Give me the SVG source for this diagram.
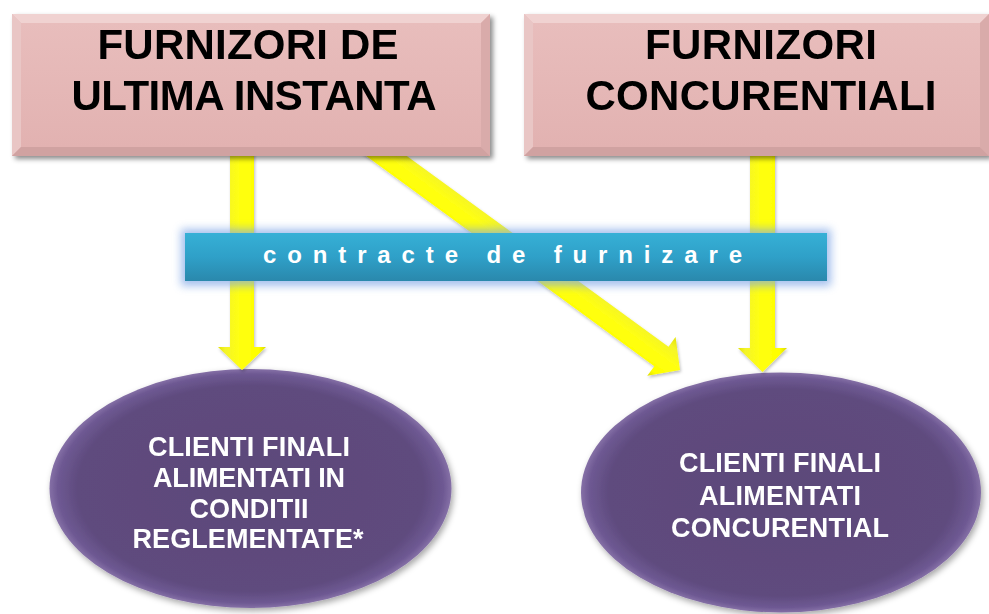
<svg xmlns="http://www.w3.org/2000/svg" width="989" height="614" viewBox="0 0 989 614">
<defs>
<style>
.boxtxt{font-family:"Liberation Sans",Arial,sans-serif;font-weight:bold;font-size:42px;fill:#000;text-anchor:middle}
.elltxt{font-family:"Liberation Sans",Arial,sans-serif;font-weight:bold;font-size:27px;fill:#fff;text-anchor:middle}
.bartxt{font-family:"Liberation Sans",Arial,sans-serif;font-weight:bold;font-size:24px;fill:#fff}
.face{fill:url(#pinkG)}
.bt{fill:#F0D2D1}.bl{fill:#E9C6C5}.br{fill:#D9ABAA}.bb{fill:#D0A2A1}
.ell{fill:url(#purpG)}
.arrow{fill:url(#yelG)}
</style>
<linearGradient id="pinkG" x1="0" y1="0" x2="0" y2="1">
<stop offset="0" stop-color="#E8BDBC"/><stop offset="1" stop-color="#E2B2B1"/>
</linearGradient>
<radialGradient id="purpG" cx="0.5" cy="0.5" r="0.5">
<stop offset="0" stop-color="#5C4879"/><stop offset="0.86" stop-color="#5F4B7E"/><stop offset="0.96" stop-color="#6E5993"/><stop offset="1" stop-color="#8570A6"/>
</radialGradient>
<linearGradient id="yelG" x1="0" y1="0" x2="1" y2="0">
<stop offset="0" stop-color="#E2E200"/><stop offset="0.15" stop-color="#F4F42A"/><stop offset="0.45" stop-color="#FFFF10"/><stop offset="0.85" stop-color="#FFFF00"/><stop offset="1" stop-color="#DADA00"/>
</linearGradient>
<linearGradient id="yelD" x1="0" y1="0" x2="0" y2="1">
<stop offset="0" stop-color="#E2E200"/><stop offset="0.2" stop-color="#F4F42A"/><stop offset="0.5" stop-color="#FFFF10"/><stop offset="0.85" stop-color="#FFFF00"/><stop offset="1" stop-color="#DADA00"/>
</linearGradient>
<linearGradient id="blueG" x1="0" y1="0" x2="0" y2="1">
<stop offset="0" stop-color="#36B0D6"/><stop offset="0.5" stop-color="#2FA0C8"/><stop offset="1" stop-color="#2A88AC"/>
</linearGradient>
<filter id="shadow" x="-10%" y="-10%" width="120%" height="130%">
<feDropShadow dx="3" dy="3" stdDeviation="2.5" flood-color="#000" flood-opacity="0.45"/>
</filter>
<filter id="eshadow" x="-10%" y="-10%" width="120%" height="130%">
<feDropShadow dx="2" dy="3" stdDeviation="3" flood-color="#000" flood-opacity="0.35"/>
</filter>
<filter id="ashadow" x="-20%" y="-20%" width="140%" height="140%">
<feDropShadow dx="1" dy="2" stdDeviation="1.5" flood-color="#000" flood-opacity="0.25"/>
</filter>
<filter id="glow" x="-10%" y="-50%" width="120%" height="200%">
<feGaussianBlur stdDeviation="4"/>
</filter>
</defs>
<rect width="989" height="614" fill="#fff"/>

<g id="client-reglementat" filter="url(#eshadow)">
<ellipse class="ell" cx="250.5" cy="488.5" rx="201" ry="119.5"/>
<text class="elltxt" x="249" y="456" textLength="202">CLIENTI FINALI</text>
<text class="elltxt" x="249" y="487" textLength="192">ALIMENTATI IN</text>
<text class="elltxt" x="249" y="518" textLength="119">CONDITII</text>
<text class="elltxt" x="248" y="548" textLength="231">REGLEMENTATE*</text>
</g>

<g id="client-concurential" filter="url(#eshadow)">
<ellipse class="ell" cx="781" cy="492.5" rx="200" ry="120"/>
<text class="elltxt" x="780" y="472" textLength="202">CLIENTI FINALI</text>
<text class="elltxt" x="780" y="505" textLength="162">ALIMENTATI</text>
<text class="elltxt" x="780" y="537" textLength="218">CONCURENTIAL</text>
</g>

<g id="connectors" filter="url(#ashadow)">
<polygon class="arrow" points="230,150 254,150 254,347 266,347 242,370 218,347 230,347"/>
<polygon class="arrow" points="750,150 775,150 775,348 787,348 762.5,372 738,348 750,348"/>
<g transform="translate(680,370) rotate(36.1)">
<polygon fill="url(#yelD)" points="-400,-12 -23,-12 -23,-24 0,0 -23,24 -23,12 -400,12"/>
</g>
</g>

<g id="furnizori-ultima-instanta" filter="url(#shadow)">
<rect class="face" x="12" y="14" width="478" height="142"/>
<polygon class="bt" points="12,14 490,14 481,23 21,23"/>
<polygon class="bl" points="12,14 21,23 21,147 12,156"/>
<polygon class="br" points="490,14 490,156 481,147 481,23"/>
<polygon class="bb" points="12,156 490,156 481,147 21,147"/>
<rect class="face" x="21" y="23" width="460" height="124"/>
<text class="boxtxt" x="248" y="59" textLength="301">FURNIZORI DE</text>
<text class="boxtxt" x="254" y="110" textLength="365">ULTIMA INSTANTA</text>
</g>

<g id="furnizori-concurentiali" filter="url(#shadow)">
<rect class="face" x="524" y="14" width="465" height="142"/>
<polygon class="bt" points="524,14 989,14 980,23 533,23"/>
<polygon class="bl" points="524,14 533,23 533,147 524,156"/>
<polygon class="br" points="989,14 989,156 980,147 980,23"/>
<polygon class="bb" points="524,156 989,156 980,147 533,147"/>
<rect class="face" x="533" y="23" width="447" height="124"/>
<text class="boxtxt" x="761" y="59" textLength="232">FURNIZORI</text>
<text class="boxtxt" x="761" y="110" textLength="351">CONCURENTIALI</text>
</g>

<g id="contracte-de-furnizare">
<rect x="181" y="229" width="650" height="57" fill="#7FA6E6" opacity="0.7" filter="url(#glow)"/>
<rect x="185" y="233" width="642" height="48" fill="url(#blueG)"/>
<text class="bartxt" x="263" y="263" textLength="479">contracte de furnizare</text>
</g>
</svg>
